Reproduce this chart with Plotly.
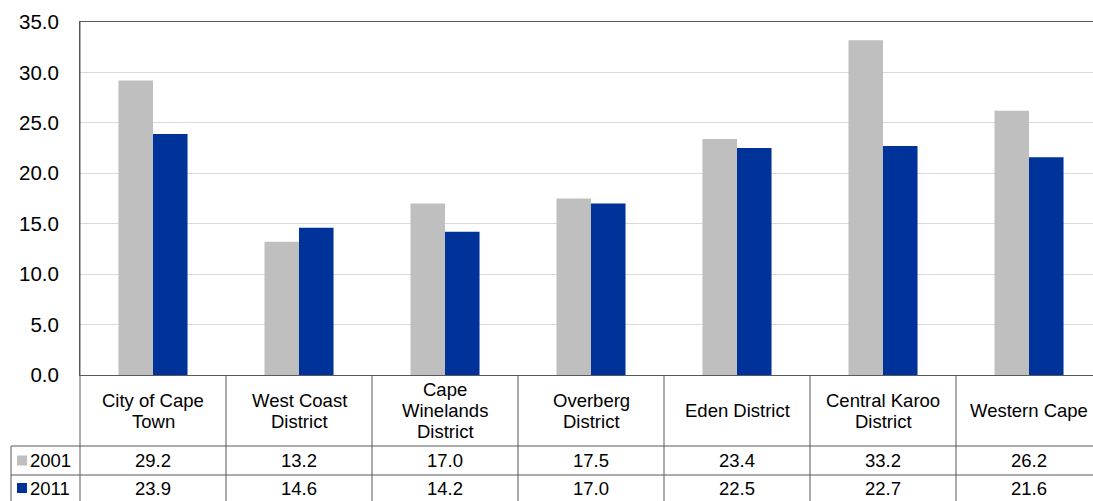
import plotly.graph_objects as go

categories = ["City of Cape Town", "West Coast District", "Cape Winelands District",
              "Overberg District", "Eden District", "Central Karoo District", "Western Cape"]
cat_labels = [["City of Cape", "Town"], ["West Coast", "District"], ["Cape", "Winelands", "District"],
              ["Overberg", "District"], ["Eden District"], ["Central Karoo", "District"], ["Western Cape"]]
series_names = ["2001", "2011"]
values_2001 = [29.2, 13.2, 17.0, 17.5, 23.4, 33.2, 26.2]
values_2011 = [23.9, 14.6, 14.2, 17.0, 22.5, 22.7, 21.6]
y_ticks = [0, 5, 10, 15, 20, 25, 30, 35]

colors = ["#BFBFBF", "#003399"]
FONT = "Liberation Sans, Arial, sans-serif"
LINE = "#595959"
TFS = 18.5

W, H = 1093, 501
L, T, B_PIX = 80, 22, 375
PW, PH = W - L, B_PIX - T

def py(p):
    return (B_PIX - p) / PH

def px(p):
    return (p - L) / PW

fig = go.Figure()
for name, vals, col in zip(series_names, [values_2001, values_2011], colors):
    fig.add_trace(go.Bar(x=categories, y=vals, name=name, marker_color=col,
                         marker_line_width=0, showlegend=False))

n = len(categories)
cat_w = 146.0
xmax = -0.5 + PW / cat_w

shapes = []
for yp in [446, 475]:
    shapes.append(dict(type="line", xref="paper", yref="paper", x0=px(11), x1=1.02,
                       y0=py(yp), y1=py(yp), line=dict(color=LINE, width=1)))
shapes.append(dict(type="line", xref="paper", yref="paper", x0=px(11), x1=px(11),
                   y0=py(446), y1=py(502), line=dict(color=LINE, width=1)))
shapes.append(dict(type="line", xref="paper", yref="paper", x0=0, x1=0,
                   y0=1, y1=py(502), line=dict(color=LINE, width=1)))
for i in range(n - 1):
    shapes.append(dict(type="line", xref="x", yref="paper", x0=i + 0.5, x1=i + 0.5,
                       y0=0, y1=py(502), line=dict(color=LINE, width=1)))
for col, yc in zip(colors, [460.5, 488]):
    shapes.append(dict(type="rect", xref="paper", yref="paper", x0=px(17), x1=px(27),
                       y0=py(yc + 5), y1=py(yc - 5), fillcolor=col, line=dict(width=0)))

annotations = []
LH = 21
for c, lines in zip(categories, cat_labels):
    k = len(lines)
    for j, ln in enumerate(lines):
        yc = 410.5 + (j - (k - 1) / 2) * LH
        annotations.append(dict(x=c, xref="x", y=py(yc), yref="paper", text=ln,
                                showarrow=False, xanchor="center", yanchor="middle",
                                font=dict(family=FONT, size=TFS, color="black")))
for vals, yc in zip([values_2001, values_2011], [460.5, 488]):
    for c, v in zip(categories, vals):
        annotations.append(dict(x=c, xref="x", y=py(yc), yref="paper", text=f"{v:.1f}",
                                showarrow=False, xanchor="center", yanchor="middle",
                                font=dict(family=FONT, size=TFS, color="black")))
for name, yc in zip(series_names, [460.5, 488]):
    annotations.append(dict(x=px(28), xref="paper", y=py(yc), yref="paper", text=name,
                            showarrow=False, xanchor="left", yanchor="middle",
                            font=dict(family=FONT, size=TFS, color="black")))

fig.update_layout(
    width=W, height=H,
    margin=dict(l=L, r=0, t=T, b=H - B_PIX, pad=0),
    paper_bgcolor="white", plot_bgcolor="white",
    barmode="group", bargap=0.527, bargroupgap=0,
    shapes=shapes, annotations=annotations,
    font=dict(family=FONT, color="black"),
    xaxis=dict(range=[-0.5, xmax], showticklabels=False, ticks="", showgrid=False,
               showline=True, linecolor=LINE, linewidth=1, mirror=True, zeroline=False,
               fixedrange=True),
    yaxis=dict(range=[0, 35], tickvals=y_ticks, ticktext=[f"{t:.1f}" for t in y_ticks],
               showgrid=True, gridcolor="#D9D9D9", gridwidth=1, zeroline=False,
               showline=True, linecolor=LINE, linewidth=1, ticks="",
               ticklabelstandoff=16,
               tickfont=dict(family=FONT, size=20.5, color="black"), fixedrange=True),
)

fig.write_html("out.html")
